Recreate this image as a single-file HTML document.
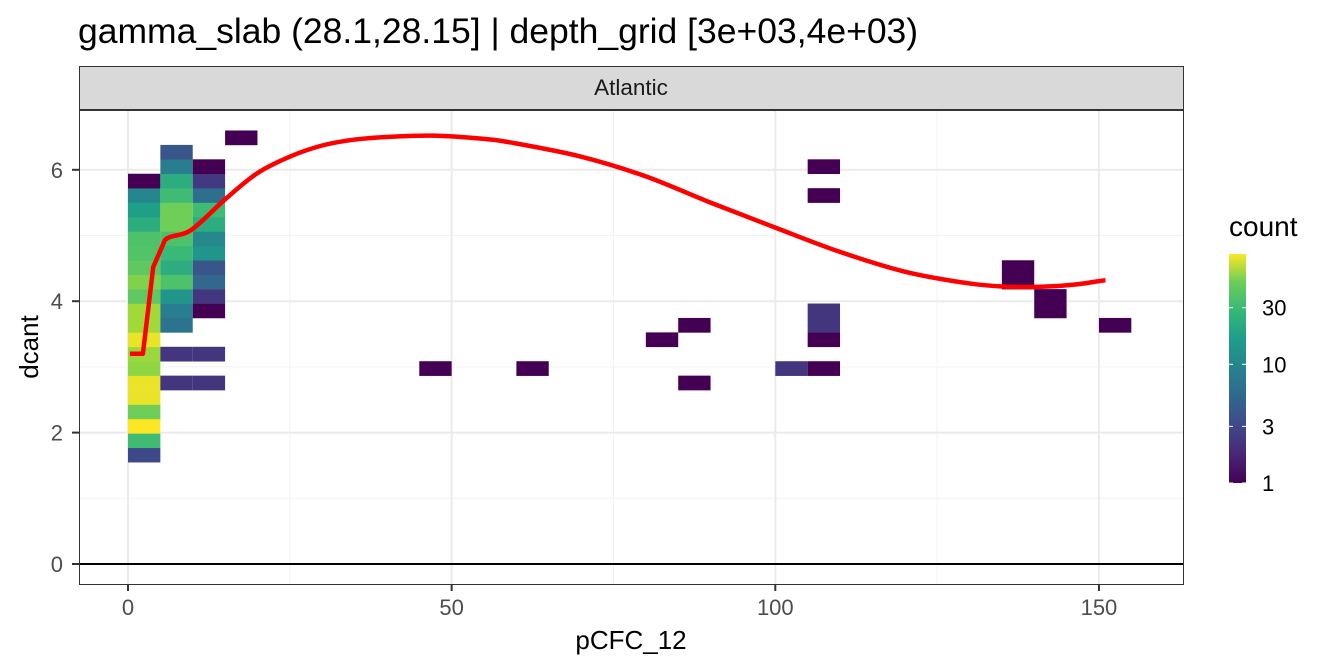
<!DOCTYPE html>
<html><head><meta charset="utf-8"><style>
body{margin:0;background:#fff;}
svg{display:block;font-family:"Liberation Sans",sans-serif;}
</style></head><body>
<svg id="chart" width="1344" height="672">
<defs><linearGradient id="vg" x1="0" y1="1" x2="0" y2="0">
<stop offset="0" stop-color="#440154"/><stop offset="0.13" stop-color="#482878"/><stop offset="0.25" stop-color="#3e4989"/><stop offset="0.38" stop-color="#31688e"/><stop offset="0.5" stop-color="#26828e"/><stop offset="0.63" stop-color="#1f9e89"/><stop offset="0.75" stop-color="#35b779"/><stop offset="0.88" stop-color="#6ece58"/><stop offset="1" stop-color="#fde725"/></linearGradient></defs>
<text x="78" y="43" font-size="35.5" fill="#000">gamma_slab (28.1,28.15] | depth_grid [3e+03,4e+03)</text>
<rect x="79.5" y="66.5" width="1104" height="43" fill="#d9d9d9" stroke="#333"/>
<text x="631" y="95" font-size="22.5" text-anchor="middle" fill="#1a1a1a">Atlantic</text>
<g id="grid"></g>
<g id="cells"></g>
<g id="curve"></g>
<rect x="79.5" y="110.5" width="1104" height="474" fill="none" stroke="#333"/>
<g id="axes"></g>
<text x="631" y="649" font-size="26" text-anchor="middle">pCFC_12</text>
<text transform="translate(38,347) rotate(-90)" font-size="26" text-anchor="middle">dcant</text>
<text x="1229" y="236" font-size="28">count</text>
<rect x="1229" y="254" width="17" height="229" fill="url(#vg)"/>
<g id="legend"></g>
</svg>
<script>
const xTicks=[0,50,100,150];
const yTicks=[0,2,4,6];
const legendTicks=[1,3,10,30];
// cells: x bin start (width 5), y bin index (base 1.55, height 0.2195), count
const cellX=[0,0,0,0,0,0,0,0,0,0,0,0,0,0,0,0,0,0,0,0,
 5,5,5,5,5,5,5,5,5,5,5,5,5,5,5,
 10,10,10,10,10,10,10,10,10,10,10,10,10,
 15,45,60,80,85,85,100,105,105,105,105,105,105,135,135,140,140,150];
const cellK=[0,1,2,3,4,5,6,7,8,9,10,11,12,13,14,15,16,17,18,19,
 5,7,9,10,11,12,13,14,15,16,17,18,19,20,21,
 5,7,10,11,12,13,14,15,16,17,18,19,20,
 22,6,6,8,9,5,6,6,8,9,10,18,20,12,13,10,11,9];
const cellCount=[2.7,21,85,32,74,74,40,43,74,45,45,28,36,28,25,24,16,12,7.7,1,
 2,2,5.4,6.5,10,24,16,20,24,32,32,21,16,6.5,3.3,
 2,2,1,2,4.3,3.3,10,8,16,21,5,2.1,1,
 1,1,1,1,1,1,2,1,1,2,2,1,1,1,1,1,1,1];
const curveX=[0.3,2.3,3.9,5.7,9.7,15,20,25,30,35,40,47,55,60,70,80,90,100,110,120,130,136,141,146,151];
const curveY=[3.2,3.2,4.52,4.93,5.08,5.55,5.95,6.2,6.37,6.46,6.5,6.52,6.47,6.4,6.2,5.9,5.5,5.12,4.75,4.45,4.27,4.22,4.22,4.25,4.32];
const maxCount=85;
const sx=v=>128+v*6.473, sy=v=>564-v*65.7;
const NS="http://www.w3.org/2000/svg";
function mk(tag,parent,attrs){const e=document.createElementNS(NS,tag);for(const k in attrs)e.setAttribute(k,attrs[k]);parent.appendChild(e);return e;}
const vir=[[68,1,84],[72,40,120],[62,73,137],[49,104,142],[38,130,142],[31,158,137],[53,183,121],[110,206,88],[181,222,43],[253,231,37]];
function viridis(t){t=Math.max(0,Math.min(1,t));const p=t*(vir.length-1),i=Math.min(Math.floor(p),vir.length-2),f=p-i;
 const c=vir[i].map((v,j)=>Math.round(v+(vir[i+1][j]-v)*f));return `rgb(${c})`;}
const grid=document.getElementById('grid');
[25,75,125].forEach(v=>{const l=mk('line',grid,{x1:sx(v),x2:sx(v),y1:110,y2:584,stroke:'#f2f2f2','stroke-width':1});});
[1,3,5].forEach(v=>{const l=mk('line',grid,{x1:79,x2:1183,y1:sy(v),y2:sy(v),stroke:'#f2f2f2','stroke-width':1});});
xTicks.forEach(v=>{const l=mk('line',grid,{x1:sx(v),x2:sx(v),y1:110,y2:584,stroke:'#ebebeb','stroke-width':2});});
yTicks.forEach(v=>{const l=mk('line',grid,{x1:79,x2:1183,y1:sy(v),y2:sy(v),stroke:'#ebebeb','stroke-width':2});});
const cells=document.getElementById('cells');
const h=0.2195,base=1.55;
cellX.forEach((x,i)=>{const y0=base+cellK[i]*h;
 const r=mk('rect',cells,{x:sx(x),y:sy(y0+h),width:sx(x+5)-sx(x),height:sy(y0)-sy(y0+h)+0.3,fill:viridis(Math.log(cellCount[i])/Math.log(maxCount))});
 });
const hl=mk('line',cells,{x1:79,x2:1183,y1:sy(0),y2:sy(0),stroke:'#000','stroke-width':2});

const cv=document.getElementById('curve');
const P=curveX.map((x,i)=>[sx(x),sy(curveY[i])]);
let d=`M${P[0][0]},${P[0][1]}`;
for(let i=0;i<P.length-1;i++){
 const p0=P[Math.max(0,i-1)],p1=P[i],p2=P[i+1],p3=P[Math.min(P.length-1,i+2)];
 const t=(i<3)?0:1/6;
 d+=` C${p1[0]+(p2[0]-p0[0])*t},${p1[1]+(p2[1]-p0[1])*t} ${p2[0]-(p3[0]-p1[0])*t},${p2[1]-(p3[1]-p1[1])*t} ${p2[0]},${p2[1]}`;}
const pl=mk('path',cv,{d:d,fill:'none',stroke:'#ff0000','stroke-width':4.5,'stroke-linejoin':'round'});

const ax=document.getElementById('axes');
xTicks.forEach(v=>{const t=mk('line',ax,{x1:sx(v),x2:sx(v),y1:584,y2:591,stroke:'#333','stroke-width':2});
 const tx=mk('text',ax,{x:sx(v),y:615,'font-size':22,'text-anchor':'middle',fill:'#4d4d4d'});tx.textContent=v;});
yTicks.forEach(v=>{const t=mk('line',ax,{x1:72,x2:79,y1:sy(v),y2:sy(v),stroke:'#333','stroke-width':2});
 const tx=mk('text',ax,{x:63,y:sy(v)+8,'font-size':22,'text-anchor':'end',fill:'#4d4d4d'});tx.textContent=v;});
const lg=document.getElementById('legend');
const ly=c=>483-Math.log10(c)/Math.log10(maxCount)*229;
legendTicks.forEach(c=>{const y=ly(c);
 const a=mk('line',lg,{x1:1229,x2:1233,y1:y,y2:y,stroke:'#fff','stroke-width':1});
 const b=mk('line',lg,{x1:1242,x2:1246,y1:y,y2:y,stroke:'#fff','stroke-width':1});
 const tx=mk('text',lg,{x:1262,y:y+8,'font-size':22,fill:'#000'});tx.textContent=c;});
</script>
</body></html>
